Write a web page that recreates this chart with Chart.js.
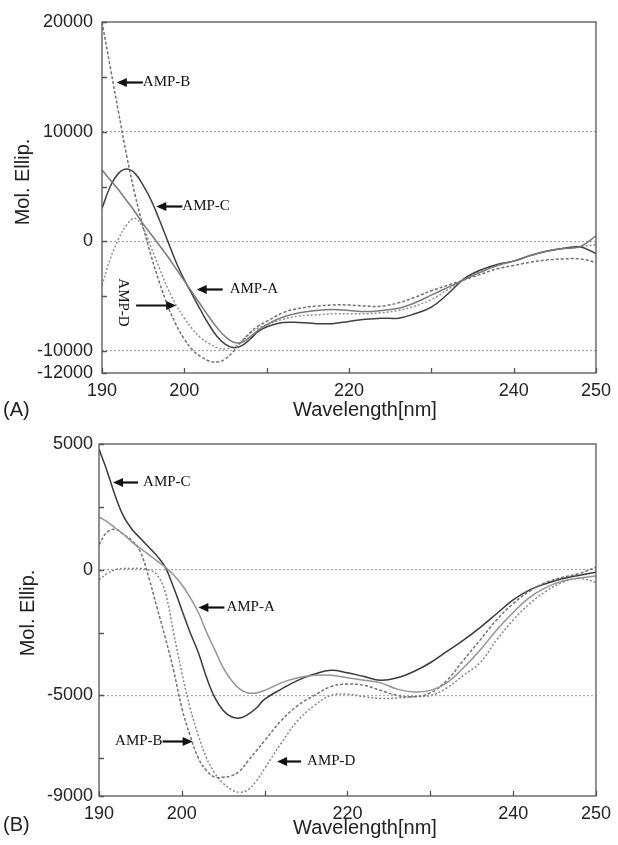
<!DOCTYPE html>
<html>
<head>
<meta charset="utf-8">
<script src="https://cdn.jsdelivr.net/npm/chart.js@4"></script>
<style>
  html, body { margin: 0; padding: 0; background: #fff; }
  canvas { display: block; }
</style>
</head>
<body>
<canvas id="chartA" width="618" height="422"></canvas>
<canvas id="chartB" width="618" height="423"></canvas>
<script>
// wavelength in nm (1 nm steps to 210, then 2 nm)
var wavelength = [190,191,192,193,194,195,196,197,198,199,200,201,202,203,204,205,206,207,208,209,210,
  212,214,216,218,220,222,224,226,228,230,232,234,236,238,240,242,244,246,248,250];

// panel (A)
var ampA_top = [6500,5600,4700,3700,2700,1600,600,-400,-1400,-2500,-3600,-4700,-5800,-6900,-7900,-8700,-9200,-9200,-8700,-8100,-7600,
  -6900,-6500,-6300,-6200,-6300,-6400,-6300,-6100,-5600,-4900,-4200,-3500,-2800,-2200,-1800,-1300,-900,-650,-500,500];
var ampB_top = [20000,15900,11800,7800,4300,1300,-1400,-3800,-5900,-7600,-8900,-9900,-10500,-10900,-11000,-10700,-10000,-9100,-8300,-7700,-7300,
  -6500,-6100,-5900,-5800,-5800,-5900,-5900,-5600,-5100,-4500,-4000,-3500,-3000,-2500,-2200,-1900,-1700,-1600,-1600,-1900];
var ampC_top = [3000,5000,6200,6600,6200,5100,3700,1900,0,-1900,-3500,-4900,-6300,-7600,-8700,-9400,-9700,-9500,-8900,-8200,-7800,
  -7400,-7400,-7500,-7500,-7300,-7100,-7000,-7000,-6600,-6000,-4800,-3400,-2600,-2100,-1800,-1300,-900,-650,-500,-1100];
var ampD_top = [-4000,-1600,200,1500,2100,1200,-600,-2500,-4300,-5800,-7000,-8000,-8800,-9300,-9700,-9800,-9600,-9100,-8400,-7900,-7600,
  -7100,-6800,-6700,-6600,-6600,-6600,-6500,-6300,-5900,-5300,-4400,-3450,-2700,-2200,-1800,-1300,-900,-650,-500,-300];

// panel (B)
var ampA_bot = [2100,1900,1650,1400,1100,850,600,350,100,-200,-600,-1100,-1700,-2500,-3200,-3900,-4400,-4750,-4900,-4900,-4800,
  -4500,-4300,-4200,-4200,-4300,-4400,-4500,-4750,-4860,-4800,-4500,-3900,-3200,-2400,-1700,-1100,-700,-450,-330,-250];
var ampB_bot = [1000,1500,1600,1400,1150,700,-300,-1500,-2700,-4000,-5500,-6600,-7500,-8000,-8250,-8250,-8200,-8000,-7600,-7200,-6800,
  -6000,-5400,-5000,-4650,-4550,-4600,-4800,-5000,-5050,-4900,-4400,-3600,-2800,-2000,-1350,-850,-500,-300,-150,100];
var ampC_bot = [4800,3900,2900,2100,1600,1250,900,550,100,-700,-1600,-2500,-3300,-4300,-5100,-5600,-5850,-5900,-5750,-5500,-5150,
  -4750,-4400,-4150,-4000,-4100,-4250,-4400,-4300,-4050,-3700,-3250,-2800,-2300,-1750,-1200,-800,-550,-350,-220,-100];
var ampD_bot = [-400,-150,0,50,50,50,0,-200,-900,-2500,-4100,-5500,-6600,-7500,-8100,-8500,-8750,-8850,-8750,-8400,-7900,
  -6900,-6000,-5400,-5000,-4950,-5050,-5120,-5100,-5050,-5000,-4700,-4200,-3700,-2800,-2000,-1350,-850,-500,-350,-500];

// axis ticks
var xTicks = [190,200,210,220,230,240,250];
var xLabels = [190,200,220,240,250];
var yTicksTop = [-12000,-10000,-5000,0,5000,10000,15000,20000];
var yLabelsTop = [-12000,-10000,0,10000,20000];
var yGridTop = [-10000,0,10000];
var yTicksBot = [-9000,-7500,-5000,-2500,0,2500,5000];
var yLabelsBot = [-9000,-5000,0,5000];
var yGridBot = [-5000,0];

// arrow labels, anchored at the arrow tip in data units
var notesTop = [
  {text: 'AMP-B', x: 191.8, y: 14500, dir: 'left', len: 26, gap: 0},
  {text: 'AMP-C', x: 196.6, y: 3200, dir: 'left', len: 26, gap: 0},
  {text: 'AMP-A', x: 201.5, y: -4300, dir: 'left', len: 26, gap: 7},
  {text: 'AMP-D', x: 199.0, y: -5800, dir: 'right', len: 40, vertical: true}
];
var notesBot = [
  {text: 'AMP-C', x: 191.7, y: 3490, dir: 'left', len: 25, gap: 5},
  {text: 'AMP-A', x: 202.0, y: -1470, dir: 'left', len: 26, gap: 2},
  {text: 'AMP-B', x: 201.3, y: -6830, dir: 'right', len: 30, gap: 0},
  {text: 'AMP-D', x: 211.5, y: -7620, dir: 'left', len: 24, gap: 6}
];

function pts(vals) {
  return wavelength.map(function (w, i) { return {x: w, y: vals[i]}; });
}

function line(label, vals, color, dash) {
  return {
    label: label,
    data: pts(vals),
    borderColor: color,
    borderWidth: 1.5,
    borderDash: dash || [],
    pointRadius: 0,
    fill: false,
    tension: 0.4
  };
}

function arrow(ctx, x1, y, x2) {
  // from x1 to x2 with head at x2
  var d = x2 > x1 ? 1 : -1;
  ctx.beginPath();
  ctx.moveTo(x1, y);
  ctx.lineTo(x2 - d * 8, y);
  ctx.lineWidth = 2.2;
  ctx.strokeStyle = '#111';
  ctx.stroke();
  ctx.beginPath();
  ctx.moveTo(x2, y);
  ctx.lineTo(x2 - d * 10, y - 4.5);
  ctx.lineTo(x2 - d * 10, y + 4.5);
  ctx.closePath();
  ctx.fillStyle = '#111';
  ctx.fill();
}

var decor = {
  id: 'decor',
  afterDraw: function (chart, args, o) {
    var ctx = chart.ctx, a = chart.chartArea;
    var xs = chart.scales.x, ys = chart.scales.y;
    ctx.save();
    // frame
    ctx.strokeStyle = '#555';
    ctx.lineWidth = 1.3;
    ctx.strokeRect(a.left, a.top, a.right - a.left, a.bottom - a.top);
    // inward tick marks
    ctx.beginPath();
    xTicks.forEach(function (v) {
      var px = Math.round(xs.getPixelForValue(v)) + 0.5;
      ctx.moveTo(px, a.bottom);
      ctx.lineTo(px, a.bottom - 5);
    });
    o.yTicks.forEach(function (v) {
      var py = Math.round(ys.getPixelForValue(v)) + 0.5;
      ctx.moveTo(a.left, py);
      ctx.lineTo(a.left + 5, py);
    });
    ctx.stroke();

    // titles
    ctx.fillStyle = '#222';
    ctx.font = '20px "Liberation Sans", Arial, sans-serif';
    ctx.textBaseline = 'middle';
    ctx.textAlign = 'center';
    ctx.fillText('Wavelength[nm]', 365, o.xTitleY);
    ctx.textAlign = 'left';
    ctx.fillText(o.panel, 3, o.panelY);
    ctx.save();
    ctx.translate(o.yTitleX, o.yTitleY);
    ctx.rotate(-Math.PI / 2);
    ctx.textAlign = 'center';
    ctx.fillText('Mol. Ellip.', 0, 0);
    ctx.restore();

    // arrow notes
    ctx.font = '15px "Liberation Serif", "Times New Roman", serif';
    o.notes.forEach(function (n) {
      var tx = xs.getPixelForValue(n.x);
      var ty = Math.round(ys.getPixelForValue(n.y)) + 0.5;
      ctx.fillStyle = '#111';
      if (n.dir === 'left') {
        arrow(ctx, tx + n.len, ty, tx);
        ctx.textAlign = 'left';
        ctx.fillText(n.text, tx + n.len + n.gap, ty);
      } else {
        arrow(ctx, tx - n.len, ty, tx);
        ctx.fillStyle = '#111';
        if (n.vertical) {
          ctx.save();
          ctx.translate(tx - n.len - 13, ty - 3);
          ctx.rotate(Math.PI / 2);
          ctx.textAlign = 'center';
          ctx.fillText(n.text, 0, 0);
          ctx.restore();
        } else {
          ctx.textAlign = 'right';
          ctx.fillText(n.text, tx - n.len - n.gap, ty);
        }
      }
    });
    ctx.restore();
  }
};

function makeChart(id, sets, yMin, yMax, yTicks, yLabels, yGrid, extra) {
  var tickFont = {family: '"Liberation Sans", Arial, sans-serif', size: 18};
  return new Chart(document.getElementById(id), {
    type: 'line',
    data: {datasets: sets},
    plugins: [decor],
    options: {
      responsive: false,
      animation: false,
      layout: {padding: {top: 22, right: 20, left: 0, bottom: 0}},
      plugins: {
        legend: {display: false},
        tooltip: {enabled: false},
        decor: Object.assign({yTicks: yTicks}, extra)
      },
      scales: {
        x: {
          type: 'linear',
          min: 190,
          max: 250,
          afterBuildTicks: function (s) { s.ticks = xTicks.map(function (v) { return {value: v}; }); },
          afterFit: function (s) { s.height = 49; },
          grid: {display: false, drawTicks: false},
          border: {display: false},
          ticks: {
            autoSkip: false,
            maxRotation: 0,
            padding: 7,
            color: '#222',
            font: tickFont,
            callback: function (v) { return xLabels.indexOf(v) >= 0 ? String(v) : ''; }
          }
        },
        y: {
          min: yMin,
          max: yMax,
          afterBuildTicks: function (s) { s.ticks = yTicks.map(function (v) { return {value: v}; }); },
          afterFit: function (s) { s.width = extra.yWidth; },
          grid: {
            drawTicks: false,
            lineWidth: 1.2,
            color: function (c) { return c.tick && yGrid.indexOf(c.tick.value) >= 0 ? '#a8a8a8' : 'rgba(0,0,0,0)'; }
          },
          border: {display: false, dash: [2, 2]},
          ticks: {
            autoSkip: false,
            padding: extra.yPad,
            color: '#222',
            font: tickFont,
            callback: function (v) { return yLabels.indexOf(v) >= 0 ? String(v) : ''; }
          }
        }
      }
    }
  });
}

makeChart('chartA', [
  line('AMP-A', ampA_top, '#7a7a7a'),
  line('AMP-B', ampB_top, '#707070', [3, 2]),
  line('AMP-C', ampC_top, '#404040'),
  line('AMP-D', ampD_top, '#8f8f8f', [2, 2])
], -12000, 20000, yTicksTop, yLabelsTop, yGridTop,
  {notes: notesTop, panel: '(A)', panelY: 410, xTitleY: 410, yTitleX: 23, yTitleY: 182, yWidth: 102, yPad: 9});

makeChart('chartB', [
  line('AMP-A', ampA_bot, '#949494'),
  line('AMP-B', ampB_bot, '#707070', [3, 2]),
  line('AMP-C', ampC_bot, '#3a3a3a'),
  line('AMP-D', ampD_bot, '#858585', [2, 2])
], -9000, 5000, yTicksBot, yLabelsBot, yGridBot,
  {notes: notesBot, panel: '(B)', panelY: 403, xTitleY: 406, yTitleX: 28, yTitleY: 191, yWidth: 99, yPad: 6});
</script>
</body>
</html>
